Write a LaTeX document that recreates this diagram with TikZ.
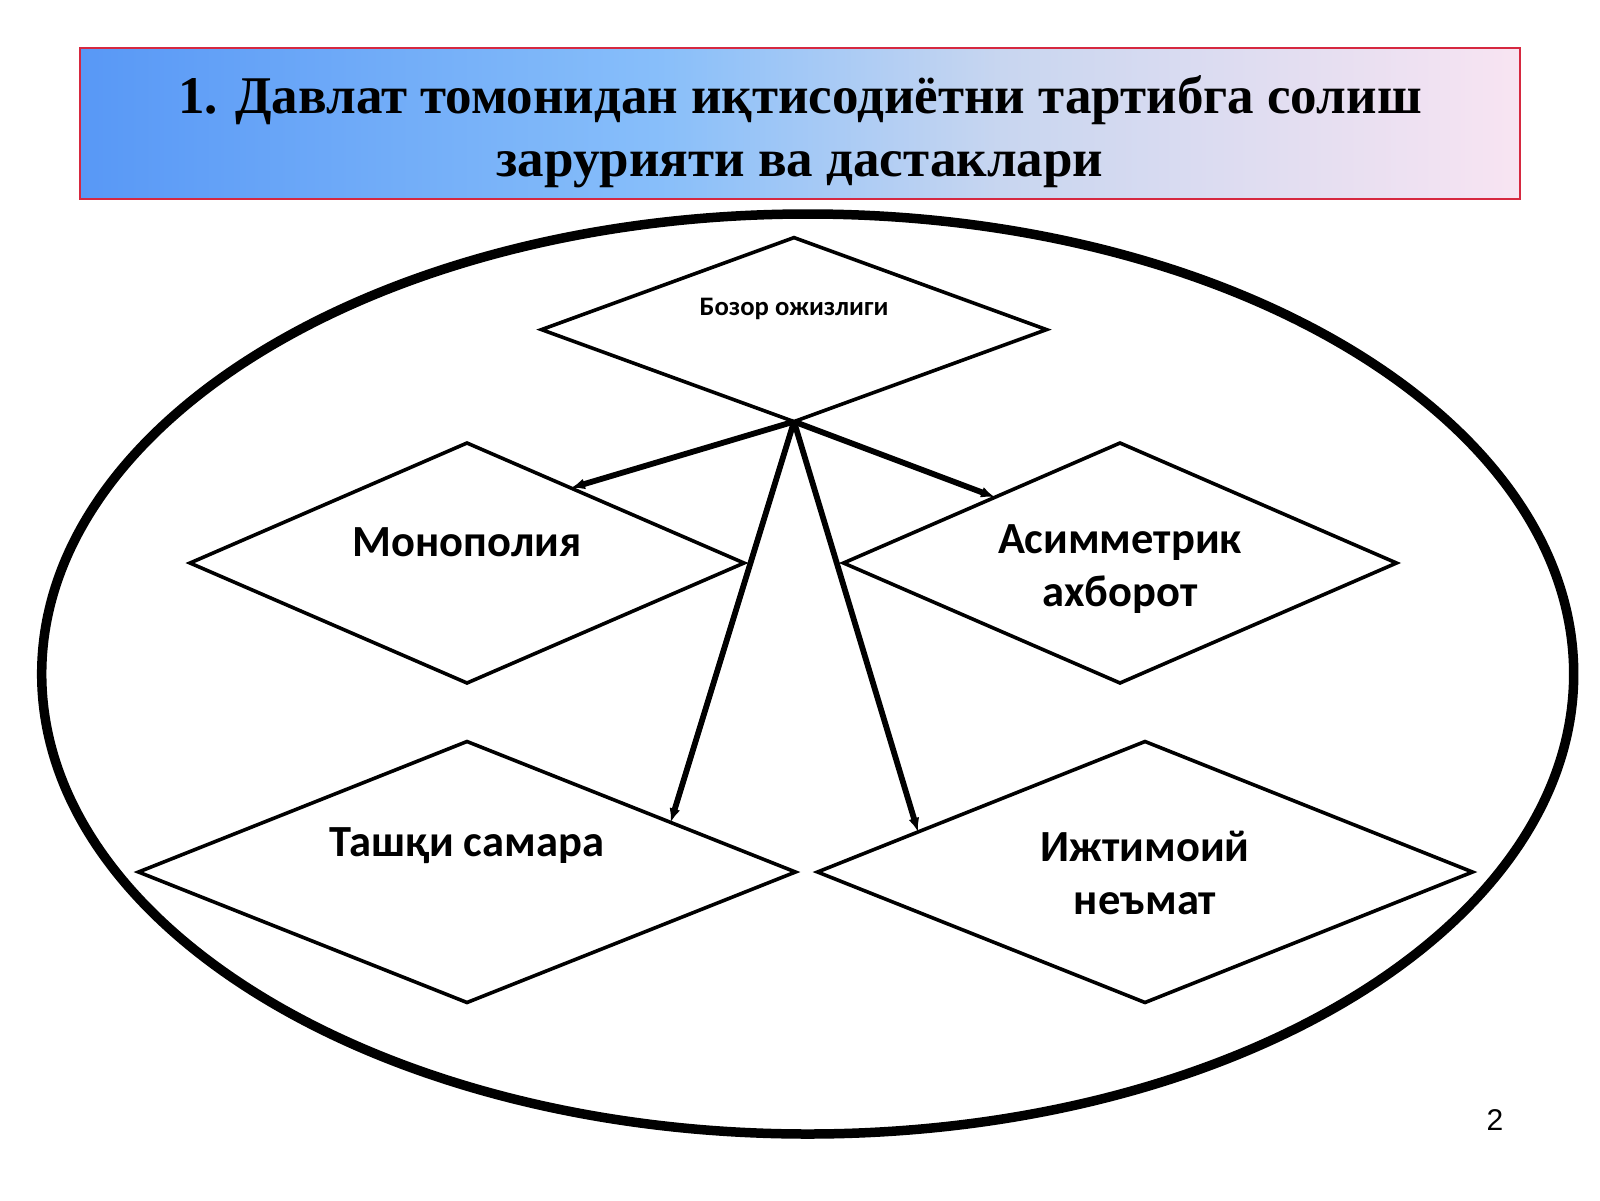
\documentclass[tikz,border=0pt]{standalone}
\usepackage{fontspec}
\setmainfont{Liberation Serif}
\newfontfamily\carlito{Carlito}
\newfontfamily\arialfont{Liberation Sans}
\usetikzlibrary{shapes.geometric,arrows.meta,calc}

\definecolor{titleblue}{RGB}{88,152,246}
\definecolor{titlesky}{RGB}{135,190,250}
\definecolor{titlegrey}{RGB}{200,214,240}
\definecolor{titlepink}{RGB}{248,228,242}
\definecolor{titlered}{RGB}{214,40,64}
\pgfdeclarehorizontalshading{titleshade}{100bp}{color(0bp)=(titleblue); color(25bp)=(titleblue);
    color(45bp)=(titlesky); color(57bp)=(titlegrey); color(75bp)=(titlepink); color(100bp)=(titlepink)}

\begin{document}
\begin{tikzpicture}[x=1pt,y=-1pt,
    romb/.style 2 args={diamond,draw=black,line width=3.6pt,inner sep=0pt,outer sep=0pt,minimum width=#1,minimum height=#2},
    rombtext/.style={font=\carlito\bfseries\fontsize{44.5}{53}\selectfont,align=center},
    strelka/.style={line width=5.8pt,-{Latex[length=14pt,width=11pt]}}]

    % 页面范围
    \useasboundingbox (0,0) rectangle (1600,1200);
    \fill[white] (0,0) rectangle (1600,1200);

    % 标题
    \node[draw=titlered,line width=2pt,shading=titleshade,
          minimum width=1440pt,minimum height=151pt] (titlebox) at (800,123.5) {};
    \node[font=\bfseries\fontsize{53}{63}\selectfont,align=center] (title) at (800,131.5)
        {1. Давлат томонидан иқтисодиётни тартибга солиш\\зарурияти ва дастаклари};

    % 大椭圆
    \draw[line width=9.5pt] (807.7,674) ellipse [x radius=766pt, y radius=460pt];

    % 菱形
    \node[romb={505pt}{184pt}] (bozor) at (794,329.6) {};
    \node[romb={554pt}{240pt}] (mono) at (467,563) {};
    \node[romb={553pt}{240pt}] (asym) at (1120,563) {};
    \node[romb={657pt}{261pt}] (tashqi) at (467,872) {};
    \node[romb={655pt}{261pt}] (ijtim) at (1145,872) {};

    % 菱形里的文字
    \node[font=\carlito\bfseries\fontsize{26.7}{32}\selectfont] (bozortxt) at (794,309) {Бозор ожизлиги};
    \node[rombtext] (monotxt) at (467,542) {Монополия};
    \node[rombtext] (asymtxt) at (1120,569) {Асимметрик\\ахборот};
    \node[rombtext] (tashqitxt) at (467,846) {Ташқи самара};
    \node[rombtext] (ijtimtxt) at (1145,872.5) {Ижтимоий\\неъмат};

    % 箭头
    \draw[strelka] (bozor.south) -- ($(mono.north)!0.375!(mono.east)$);
    \draw[strelka] (bozor.south) -- ($(asym.north)!0.452!(asym.west)$);
    \draw[strelka] (bozor.south) -- ($(tashqi.north)!0.62!(tashqi.east)$);
    \draw[strelka] (bozor.south) -- ($(ijtim.north)!0.693!(ijtim.west)$);

    % 页码
    \node[font=\arialfont\fontsize{30}{36}\selectfont] (pagenum) at (1495,1120) {2};

\end{tikzpicture}
\end{document}
